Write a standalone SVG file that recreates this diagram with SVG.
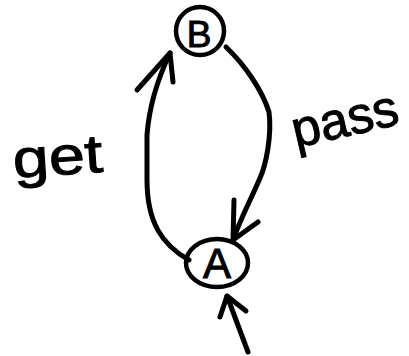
<svg xmlns="http://www.w3.org/2000/svg" width="409" height="356" viewBox="0 0 409 356">
<style>
.n{fill:none;stroke:#000;stroke-width:4.5}
.e{fill:none;stroke:#000;stroke-width:5;stroke-linecap:round;stroke-linejoin:round}
.lbl{font-family:"Liberation Sans",Arial,sans-serif;fill:#000;stroke:#000;stroke-width:1}
.nl{font-family:"Liberation Sans",Arial,sans-serif;text-anchor:middle;fill:#000;stroke:#000;stroke-width:1}
</style>
<rect width="409" height="356" fill="#fff"/>
<g id="node-B">
<circle class="n" cx="200" cy="31" r="24"/>
<text class="nl" x="199" y="47" font-size="37">B</text>
</g>
<g id="node-A">
<ellipse class="n" cx="217" cy="263" rx="31" ry="24"/>
<text class="nl" x="217" y="278" font-size="42">A</text>
</g>
<g id="connectors">
<path class="e" d="M189,260 C162,245 147,222 147,180 L147,135 Q150,95 170,53"/>
<path class="e" d="M137,90 L170,53 L173,82"/>
<path class="e" d="M226,47 C245,65 262,90 269,112 C272,135 266,165 260,178 C252,197 240,220 233,240"/>
<path class="e" d="M234,200 L233,240 L258,222"/>
<path class="e" d="M248,352 L227,296"/>
<path class="e" d="M220,317 L227,296 L246,311"/>
</g>
<g id="labels">
<text class="lbl" x="14" y="178" font-size="54" textLength="90" lengthAdjust="spacingAndGlyphs" transform="rotate(-4 14 178)">get</text>
<text class="lbl" x="296" y="148" font-size="52" textLength="108" lengthAdjust="spacingAndGlyphs" transform="rotate(-13 296 148)">pass</text>
</g>
</svg>
